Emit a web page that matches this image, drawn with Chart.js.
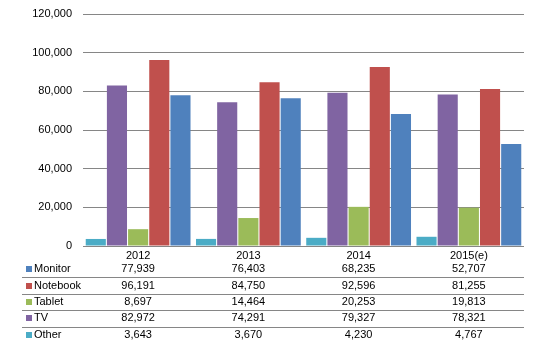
<!DOCTYPE html>
<html>
<head>
<meta charset="utf-8">
<script src="https://cdn.jsdelivr.net/npm/chart.js@4/dist/chart.umd.min.js"></script>
<style>
  html, body { margin: 0; padding: 0; background: #fff; }
  #wrap { width: 539px; height: 350px; position: relative; }
</style>
</head>
<body>
<div id="wrap"><canvas id="chart" width="539" height="350"></canvas></div>
<script>
const years = ['2012', '2013', '2014', '2015(e)'];
const monitor = [77939, 76403, 68235, 52707];
const notebook = [96191, 84750, 92596, 81255];
const tablet = [8697, 14464, 20253, 19813];
const tv = [82972, 74291, 79327, 78321];
const other = [3643, 3670, 4230, 4767];
const yTicks = [0, 20000, 40000, 60000, 80000, 100000, 120000];

const colors = {
  Monitor: '#4F81BD',
  Notebook: '#C0504D',
  Tablet: '#9BBB59',
  TV: '#8064A2',
  Other: '#4BACC6'
};

// bars left-to-right: Other, TV, Tablet, Notebook, Monitor
const series = [
  { label: 'Other', data: other },
  { label: 'TV', data: tv },
  { label: 'Tablet', data: tablet },
  { label: 'Notebook', data: notebook },
  { label: 'Monitor', data: monitor }
];
// table rows top-to-bottom
const tableRows = ['Monitor', 'Notebook', 'Tablet', 'TV', 'Other'];

const fontFamily = '"Liberation Sans", Arial, sans-serif';
const fmt = v => v.toLocaleString('en-US');

// draws the data table under the plot
const dataTable = {
  id: 'dataTable',
  afterDraw(chart) {
    const ctx = chart.ctx;
    const x = chart.scales.x;
    const rowTop = 261, rowH = 16.4;
    ctx.save();
    ctx.font = '11px ' + fontFamily;
    ctx.textBaseline = 'middle';
    tableRows.forEach((name, r) => {
      const s = series.find(d => d.label === name);
      const cy = rowTop + rowH * r + rowH / 2;
      ctx.fillStyle = colors[name];
      ctx.fillRect(26, Math.round(cy) - 3, 6, 6);
      ctx.fillStyle = '#000';
      ctx.textAlign = 'left';
      ctx.fillText(name, 34, cy);
      ctx.textAlign = 'center';
      s.data.forEach((v, i) => ctx.fillText(fmt(v), x.getPixelForValue(i), cy));
      if (r < tableRows.length - 1) {
        const ly = Math.round(rowTop + rowH * (r + 1)) + 0.5;
        ctx.strokeStyle = '#868686';
        ctx.lineWidth = 1;
        ctx.beginPath();
        ctx.moveTo(22, ly);
        ctx.lineTo(chart.chartArea.right, ly);
        ctx.stroke();
      }
    });
    ctx.restore();
  }
};

new Chart(document.getElementById('chart'), {
  type: 'bar',
  data: {
    labels: years,
    datasets: series.map(s => ({
      label: s.label,
      data: s.data,
      backgroundColor: colors[s.label],
      borderWidth: 0,
      categoryPercentage: 0.96,
      barPercentage: 0.95
    }))
  },
  options: {
    responsive: false,
    animation: false,
    layout: { padding: { top: 14, right: 15, left: 0, bottom: 0 } },
    plugins: { legend: { display: false }, tooltip: { enabled: false } },
    scales: {
      x: {
        grid: { display: false, drawTicks: false },
        border: { display: false },
        ticks: { color: '#000', font: { family: fontFamily, size: 11 }, padding: 3 },
        afterFit(scale) { scale.height = 104; }
      },
      y: {
        min: 0,
        max: 120000,
        afterBuildTicks(scale) { scale.ticks = yTicks.map(v => ({ value: v })); },
        grid: { color: '#868686', drawTicks: false },
        border: { display: false },
        ticks: {
          color: '#000',
          font: { family: fontFamily, size: 11 },
          padding: 11,
          callback: v => fmt(v)
        },
        afterFit(scale) {
          scale.width = 83;
          scale.paddingTop = 0;
          scale.paddingBottom = 0;
        }
      }
    }
  },
  plugins: [dataTable]
});
</script>
</body>
</html>
